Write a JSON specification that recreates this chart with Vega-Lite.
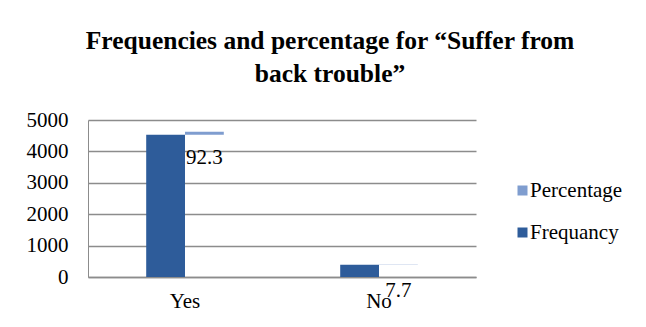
{
  "$schema": "https://vega.github.io/schema/vega-lite/v6.json",
  "autosize": {"type": "none"},
  "padding": {"left": 88, "top": 120, "right": 170, "bottom": 50},
  "width": 388,
  "height": 157,
  "background": "white",
  "title": {
    "text": ["Frequencies and percentage for “Suffer from", "back trouble”"],
    "font": "Liberation Serif",
    "fontSize": 25.5,
    "fontWeight": "bold",
    "color": "#000000",
    "lineHeight": 33,
    "anchor": "middle",
    "frame": "group",
    "dx": 48,
    "offset": 22
  },
  "data": {
    "values": [
      {"answer": "Yes", "series": "Frequancy", "value": 4530},
      {"answer": "Yes", "series": "Percentage", "value": 92.3},
      {"answer": "No", "series": "Frequancy", "value": 390},
      {"answer": "No", "series": "Percentage", "value": 7.7}
    ]
  },
  "transform": [
    {"stack": "value", "groupby": ["answer"], "sort": [{"field": "series", "order": "ascending"}], "as": ["y0", "y1"]}
  ],
  "encoding": {
    "x": {
      "field": "answer",
      "type": "nominal",
      "sort": ["Yes", "No"],
      "scale": {"paddingInner": 0.6, "paddingOuter": 0.3},
      "axis": {
        "title": null,
        "labelAngle": 0,
        "labelFont": "Liberation Serif",
        "labelFontSize": 21,
        "labelColor": "#000000",
        "labelPadding": 13,
        "ticks": false,
        "domainColor": "#8C8C8C",
        "domainWidth": 1.5
      }
    },
    "xOffset": {"field": "series", "type": "nominal", "scale": {"domain": ["Frequancy", "Percentage"], "paddingInner": 0, "paddingOuter": 0}},
    "y": {
      "field": "y1",
      "type": "quantitative",
      "scale": {"domain": [0, 5000]},
      "axis": {
        "title": null,
        "values": [0, 1000, 2000, 3000, 4000, 5000],
        "format": "d",
        "labelOverlap": false,
        "labelFont": "Liberation Serif",
        "labelFontSize": 21,
        "labelColor": "#000000",
        "labelPadding": 20,
        "ticks": false,
        "domain": true,
        "domainColor": "#8C8C8C",
        "gridColor": "#8C8C8C",
        "gridWidth": 1.3
      }
    }
  },
  "layer": [
    {
      "mark": {"type": "bar"},
      "encoding": {
        "y2": {"field": "y0"},
        "color": {
          "field": "series",
          "type": "nominal",
          "scale": {"domain": ["Percentage", "Frequancy"], "range": ["#7F9DCF", "#2E5C9A"]},
          "legend": {
            "title": null,
            "orient": "none",
            "legendX": 424,
            "legendY": 60,
            "symbolType": "square",
            "symbolSize": 100,
            "symbolStrokeWidth": 0,
            "labelFont": "Liberation Serif",
            "labelFontSize": 21,
            "labelColor": "#000000",
            "labelOffset": -3,
            "rowPadding": 20,
            "padding": 0
          }
        }
      }
    },
    {
      "transform": [{"filter": "datum.series === 'Percentage'"}],
      "mark": {"type": "text", "font": "Liberation Serif", "fontSize": 21, "color": "#000000", "baseline": "middle", "dy": 26},
      "encoding": {
        "text": {"field": "value", "type": "quantitative", "format": ".1f"}
      }
    }
  ],
  "config": {
    "view": {"stroke": null}
  }
}
